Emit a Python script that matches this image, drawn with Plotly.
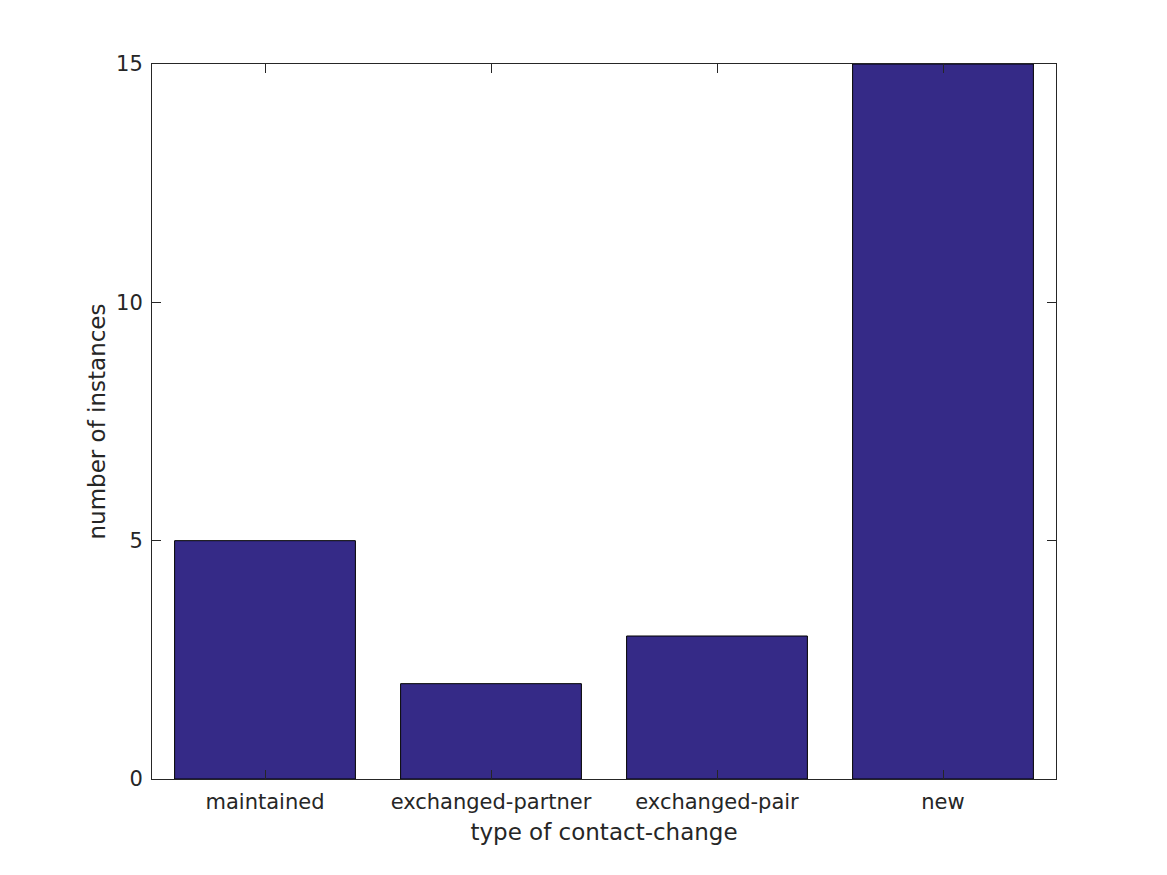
import plotly.graph_objects as go

categories = ["maintained", "exchanged-partner", "exchanged-pair", "new"]
counts = [5, 2, 3, 15]
y_ticks = [0, 5, 10, 15]

positions = list(range(1, len(categories) + 1))

fig = go.Figure(
    go.Bar(
        x=positions,
        y=counts,
        width=0.8,
        marker=dict(color="#352A87", line=dict(color="#000000", width=1)),
    )
)

axis_common = dict(
    showline=True,
    linecolor="#262626",
    linewidth=1,
    mirror="ticks",
    ticks="inside",
    ticklen=9,
    tickcolor="#262626",
    showgrid=False,
    zeroline=False,
    tickfont=dict(family="DejaVu Sans", size=21, color="#262626"),
)

fig.update_layout(
    width=1167,
    height=875,
    paper_bgcolor="white",
    plot_bgcolor="white",
    margin=dict(l=144, r=119, t=56, b=104),
    showlegend=False,
    font=dict(family="DejaVu Sans", color="#262626"),
    xaxis=dict(
        range=[0.5, len(categories) + 0.5],
        tickmode="array",
        tickvals=positions,
        ticktext=categories,
        ticklabelstandoff=4,
        title=dict(text="type of contact-change", font=dict(size=23, color="#262626"), standoff=10),
        **axis_common,
    ),
    yaxis=dict(
        range=[0, 15],
        tickmode="array",
        tickvals=y_ticks,
        ticktext=[str(v) for v in y_ticks],
        ticklabelstandoff=4,
        title=dict(text="number of instances", font=dict(size=23, color="#262626"), standoff=4),
        **axis_common,
    ),
)

fig.write_html("out.html")
